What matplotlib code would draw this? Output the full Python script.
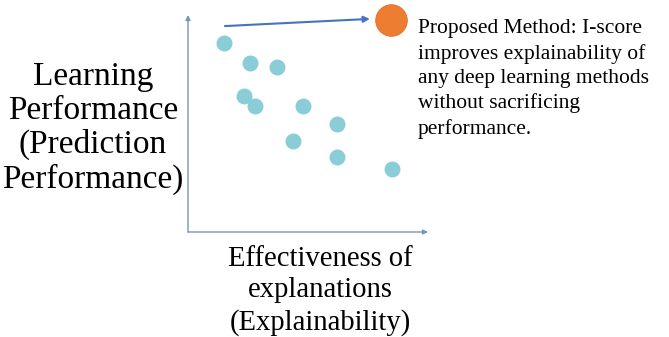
import matplotlib.pyplot as plt

plt.rcParams['font.family'] = ['Liberation Serif', 'DejaVu Serif']

# existing methods: explainability (x) vs performance (y)
x_methods = [1.5, 2.58, 3.70, 2.35, 2.78, 4.80, 6.22, 4.39, 6.22, 8.49]
y_methods = [8.71, 7.79, 7.62, 6.27, 5.81, 5.81, 4.96, 4.19, 3.47, 2.90]

# proposed method
x_prop = [8.45]
y_prop = [9.77]

# arrow towards the proposed method
arrow_start = (1.54, 9.49)
arrow_end = (7.58, 9.82)

ylabel = "Learning\nPerformance\n(Prediction\nPerformance)"
xlabel = "Effectiveness of\nexplanations\n(Explainability)"
note = ("Proposed Method: I-score\nimproves explainability of\n"
        "any deep learning methods\nwithout sacrificing\nperformance.")

W, H = 669, 337
fig = plt.figure(figsize=(W / 100, H / 100), dpi=100)
ax = fig.add_axes([188 / W, (H - 232) / H, 240 / W, 217 / H])
ax.set_xlim(0, 10)
ax.set_ylim(0, 10)
ax.axis('off')

axis_color = '#7396ba'
ax.annotate('', xy=(0, 1), xytext=(0, 0), xycoords='axes fraction',
            arrowprops=dict(arrowstyle='-|>', color=axis_color, lw=1.0,
                            mutation_scale=7, shrinkA=0, shrinkB=0))
ax.annotate('', xy=(1, 0), xytext=(0, 0), xycoords='axes fraction',
            arrowprops=dict(arrowstyle='-|>', color=axis_color, lw=1.0,
                            mutation_scale=7, shrinkA=0, shrinkB=0))

ax.scatter(x_methods, y_methods, s=110, color='#8acdd6', zorder=3, clip_on=False)
ax.scatter(x_prop, y_prop, s=520, color='#ed7d31', zorder=3, clip_on=False,
           edgecolors='#d9692a', linewidths=0.5)

ax.annotate('', xy=arrow_end, xytext=arrow_start,
            arrowprops=dict(arrowstyle='-|>', color='#4472c4', lw=1.5,
                            mutation_scale=9, shrinkA=0, shrinkB=0))

fig.text(93 / W, 1 - 128 / H, ylabel, fontsize=24, ha='center', va='center',
         linespacing=1.14)
fig.text(320 / W, 1 - 291 / H, xlabel, fontsize=20.6, ha='center', va='center',
         linespacing=1.29)
fig.text(418 / W, 1 - 19 / H, note, fontsize=15.5, ha='left', va='top',
         linespacing=1.38)

fig.savefig('out.png', dpi=100)
